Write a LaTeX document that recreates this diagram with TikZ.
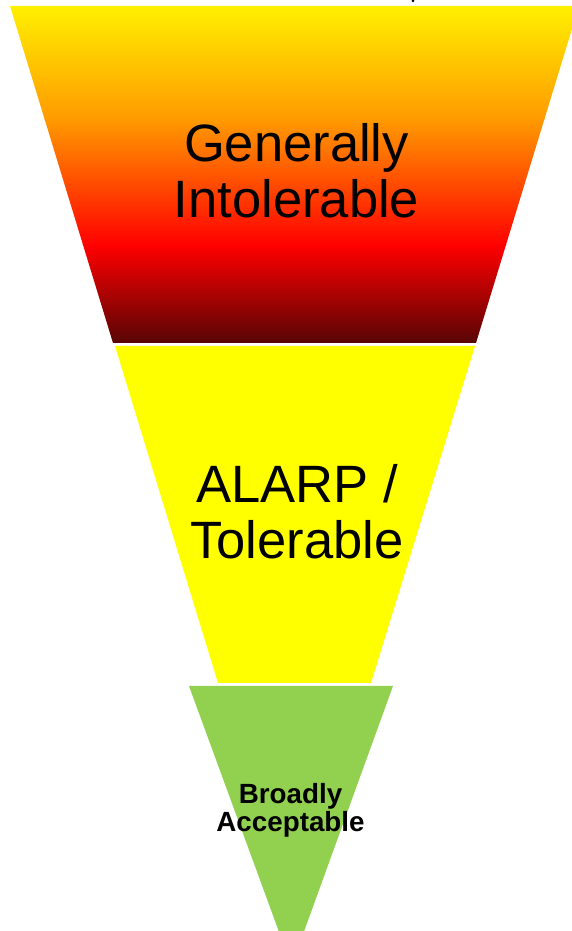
\documentclass[tikz,border=0pt]{standalone}
\usepackage{fontspec}
\setmainfont{Liberation Sans}
\usetikzlibrary{calc}

\definecolor{topYellow}{RGB}{255,240,0}
\definecolor{midOrange}{RGB}{255,153,0}
\definecolor{hotRed}{RGB}{255,0,0}
\definecolor{deepRed}{RGB}{88,5,5}
\definecolor{alarpYellow}{RGB}{255,255,0}
\definecolor{okGreen}{RGB}{146,208,80}

\tikzset{
	bigLabel/.style={align=center, font=\fontsize{29.9}{31.8}\selectfont},
	smallLabel/.style={align=center, font=\bfseries\fontsize{15.8}{15.9}\selectfont}
}

\begin{document}
\begin{tikzpicture}

% Define coordinates.

	%frame
	\coordinate (origin) at (0,0);
	\coordinate (corner) at (11.44, 18.62);

	%intolerable band
	\coordinate (intolTL) at (0.2, 18.5);
	\coordinate (intolTR) at (11.58, 18.5);
	\coordinate (intolBR) at (9.52, 11.76);
	\coordinate (intolBL) at (2.26, 11.76);

	%alarp band
	\coordinate (alarpTL) at (2.30, 11.70);
	\coordinate (alarpTR) at (9.50, 11.70);
	\coordinate (alarpBR) at (7.42, 4.96);
	\coordinate (alarpBL) at (4.36, 4.96);

	%acceptable band
	\coordinate (acceptTL) at (3.78, 4.90);
	\coordinate (acceptTR) at (7.86, 4.90);
	\coordinate (acceptTip) at (5.83, -0.70);

	%stray mark
	\coordinate (mark) at (8.26, 18.60);

% Frame.

	\clip (origin) rectangle (corner);

% Colour in.

	\begin{scope}
		\clip (intolTL) -- (intolTR) -- (intolBR) -- (intolBL) -- cycle;
		\shade [top color=topYellow, bottom color=midOrange] (0, 18.5) rectangle (11.6, 16.20);
		\shade [top color=midOrange, bottom color=hotRed] (0, 16.22) rectangle (11.6, 13.70);
		\shade [top color=hotRed, bottom color=deepRed] (0, 13.72) rectangle (11.6, 11.76);
	\end{scope}

	\fill [fill=alarpYellow] (alarpTL) -- (alarpTR) -- (alarpBR) -- (alarpBL) -- cycle;

	\fill [fill=okGreen] (acceptTL) -- (acceptTR) -- (acceptTip) -- cycle;

	\fill [black] (mark) circle (0.03);

% Draw band labels.

	\node [bigLabel] (intolLabel) at (5.93, 15.2) {Generally\\Intolerable};
	\node [bigLabel] (alarpLabel) at (5.94, 8.38) {ALARP /\\Tolerable};
	\node [smallLabel] (acceptLabel) at (5.81, 2.42) {Broadly\\Acceptable};

\end{tikzpicture}
\end{document}
